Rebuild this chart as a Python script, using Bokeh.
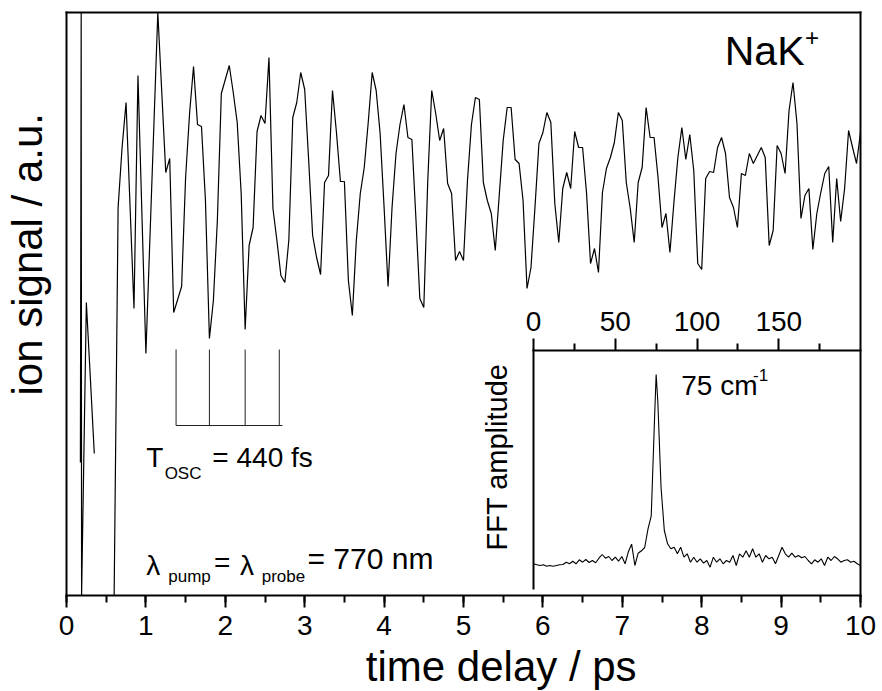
import numpy as np
from bokeh.plotting import figure
from bokeh.models import Range1d, LinearAxis, FixedTicker, Label
from bokeh.embed import file_html
from bokeh.resources import INLINE

# ---------------- data ----------------
# early (time-zero) part of the transient, ps / a.u. (off-scale points at the frame limits)
early_t = [0.175, 0.185, 0.19, 0.25, 0.30, 0.35]
early_signal = [133, 583, 0, 293, 218, 142]

# main transient, sampled every 0.05 ps starting at 0.60 ps
main_t0 = 0.60
main_dt = 0.05
main_signal = [
    0, 388, 448, 493, 390, 287, 520, 381,
    242, 356, 469, 583, 503, 423, 437, 283, 296, 309,
    418, 482, 529, 471, 469, 395, 257, 295, 375, 502,
    516, 530, 503, 473, 402, 266, 350, 368, 464, 480,
    472, 538, 387, 355, 320, 313, 355, 478, 493, 523,
    506, 435, 360, 338, 321, 413, 420, 505, 463, 414,
    414, 315, 280, 355, 402, 428, 473, 523, 505, 462,
    388, 309, 388, 442, 471, 491, 458, 456, 378, 297,
    288, 415, 505, 482, 455, 467, 412, 402, 335, 344,
    335, 415, 471, 498, 496, 413, 395, 382, 345, 400,
    455, 488, 488, 436, 432, 395, 307, 328, 388, 452,
    463, 483, 473, 392, 353, 407, 423, 407, 464, 448,
    448, 402, 332, 347, 323, 403, 427, 438, 453, 483,
    475, 413, 387, 353, 413, 428, 488, 458, 458, 418,
    368, 382, 343, 393, 438, 468, 436, 461, 425, 332,
    326, 417, 424, 423, 448, 458, 442, 398, 388, 368,
    422, 420, 442, 432, 440, 448, 438, 350, 365, 450,
    442, 422, 485, 513, 472, 377, 400, 407, 346, 382,
    403, 422, 429, 353, 417, 374, 407, 465, 448, 432,
    463,
]

# oscillation-period marks (ps)
osc_marks_t = [1.38, 1.80, 2.25, 2.68]
osc_mark_top = 246
osc_mark_bottom = 170
osc_bar_end = 2.72

# FFT of the transient (wavenumber cm^-1, amplitude a.u.)
fft_x = [0, 2, 4, 6, 8, 10, 12, 14, 16, 18, 20, 22, 24, 26, 28, 30, 32, 34, 36, 38,
         40, 42, 44, 46, 48, 50, 52, 54, 56, 58, 60, 62, 64, 66, 68, 70, 72, 74, 75, 76,
         78, 80, 82, 84, 86, 88, 90, 92, 94, 96, 98, 100, 102, 104, 106, 108, 110, 112,
         114, 116, 118, 120, 122, 124, 126, 128, 130, 132, 134, 136, 138, 140, 142, 144,
         146, 148, 150, 152, 154, 156, 158, 160, 162, 164, 166, 168, 170, 172, 174, 176,
         178, 180, 182, 184, 186, 188, 190, 192, 194, 196, 198, 200]
fft_amp = [24.7, 23.7, 23, 23.7, 22.3, 23, 22.3, 23, 23.7, 24, 26.3, 24.7, 27.3, 24.7,
           28.7, 26.3, 29, 26, 28, 25.7, 30.3, 34, 30.3, 32, 28, 31.3, 27.3, 32, 24.7,
           36.7, 44.3, 23, 35.3, 37.7, 41, 59.3, 72.7, 169, 214, 188, 101, 58, 44.7, 39.7,
           41.3, 34.7, 41.3, 31.3, 34.7, 26.3, 31.3, 26.3, 29.7, 25.3, 28, 21.3, 31.3,
           26.3, 29.7, 24.7, 28, 26.3, 33, 23, 34.7, 31.3, 37.7, 31.3, 39.7, 31.3, 34.7,
           26.3, 33, 29.7, 31.3, 24.7, 33, 41.3, 34.7, 31.3, 35.3, 31.3, 33, 30.7, 32,
           28, 24.7, 28.7, 26.3, 29.7, 23, 31.3, 28, 32, 29.7, 26.3, 28, 28.7, 26.3, 27.3,
           24.7, 23]

x_ticks = list(range(0, 11))
x_minor = [0.5 * i for i in range(21)]
fft_ticks = [0, 50, 100, 150]
fft_minor = [25, 75, 125, 175]

# ---------------- layout constants ----------------
FONT = "Liberation Sans"
W, H = 882, 691
BL, BR, BT, BB = 66, 22, 12, 96      # margins around the drawn box (px)
T_MAX = 10.0
Y_MAX = 583
PX_PER_PS = (W - BL - BR) / T_MAX
INSET_T0 = 5.882                     # main-time position of inset left edge
FFT_MAX = 200
FFT_OFFSET = 7                       # fft zero relative to main zero
INSET_TOP = 238                      # inset top axis (fft units)
BASE_SHIFT = 0.35                    # label anchor-to-baseline correction (em)

xr = Range1d(-BL / PX_PER_PS, T_MAX + BR / PX_PER_PS)
yr = Range1d(-BB, Y_MAX + BT)

main_t = [main_t0 + main_dt * i for i in range(len(main_signal))]
t_all = np.array(early_t + [np.nan] + main_t)
s_all = np.array(early_signal + [np.nan] + main_signal, dtype=float)

p = figure(width=W, height=H, x_range=xr, y_range=yr,
           output_backend="svg", toolbar_location=None, min_border=0)
p.grid.visible = False
p.outline_line_color = None
p.background_fill_color = "white"
p.border_fill_color = "white"


def style_axis(ax, ticks=None, minor=None, label_size="28px", standoff=8):
    ax.axis_line_width = 2
    ax.axis_line_cap = "square"
    ax.major_label_text_font = FONT
    ax.major_label_text_color = "black"
    if ticks is None:
        ax.ticker = FixedTicker(ticks=[])
        ax.major_tick_line_color = None
        ax.minor_tick_line_color = None
        ax.major_label_text_font_size = "0px"
    else:
        ax.ticker = FixedTicker(ticks=ticks, minor_ticks=minor)
        ax.major_tick_line_width = 2
        ax.minor_tick_line_width = 2
        ax.major_tick_out = 12
        ax.major_tick_in = 0
        ax.minor_tick_out = 7
        ax.minor_tick_in = 0
        ax.major_label_standoff = standoff
        ax.major_label_text_font_size = label_size


# bottom axis of the main box
xa = p.xaxis[0]
xa.fixed_location = 0
xa.bounds = (0, T_MAX)
style_axis(xa, x_ticks, x_minor, standoff=8)

# left, right and top edges of the main box
ya = p.yaxis[0]
ya.fixed_location = 0
ya.bounds = (0, Y_MAX)
style_axis(ya)

right_edge = LinearAxis(fixed_location=T_MAX, bounds=(0, Y_MAX))
style_axis(right_edge)
p.add_layout(right_edge, "right")

top_edge = LinearAxis(fixed_location=Y_MAX, bounds=(0, T_MAX))
style_axis(top_edge)
p.add_layout(top_edge, "above")

# inset ranges
k_fft = FFT_MAX / (T_MAX - INSET_T0)
p.extra_x_ranges = {"fx": Range1d((xr.start - INSET_T0) * k_fft, (xr.end - INSET_T0) * k_fft)}
p.extra_y_ranges = {"fy": Range1d(yr.start - FFT_OFFSET, yr.end - FFT_OFFSET)}

# main transient
p.line(t_all, s_all, line_color="black", line_width=1.2)

# oscillation period bracket
p.segment(x0=osc_marks_t, y0=[osc_mark_bottom] * len(osc_marks_t),
          x1=osc_marks_t, y1=[osc_mark_top] * len(osc_marks_t),
          line_color="#222222", line_width=1)
p.segment(x0=[osc_marks_t[0]], y0=[osc_mark_bottom], x1=[osc_bar_end], y1=[osc_mark_bottom],
          line_color="#222222", line_width=1)

# inset FFT
p.line(fft_x, fft_amp, x_range_name="fx", y_range_name="fy", line_color="black", line_width=1.1)

top_ax = LinearAxis(x_range_name="fx", y_range_name="fy", fixed_location=INSET_TOP,
                    bounds=(0, FFT_MAX))
style_axis(top_ax, fft_ticks, fft_minor, standoff=8)
p.add_layout(top_ax, "above")

left_ax = LinearAxis(x_range_name="fx", y_range_name="fy", fixed_location=0,
                     bounds=(0, INSET_TOP))
style_axis(left_ax)
p.add_layout(left_ax, "left")


# texts (x, y give the text baseline start, in main data units)
def lab(text, x, y, size, angle=0.0):
    if angle == 0.0:
        y = y + BASE_SHIFT * size
    else:
        x = x - BASE_SHIFT * size / PX_PER_PS
    p.add_layout(Label(x=x, y=y, text=text, text_font=FONT, text_font_size=f"{size}px",
                       text_color="black", text_align="left", text_baseline="alphabetic",
                       angle=angle))


lab("NaK", 8.29, 530, 41)
lab("+", 9.30, 550, 24)
lab("T", 1.005, 128, 28)
lab("OSC", 1.236, 116, 17)
lab("= 440 fs", 1.837, 128, 28)
lab("λ", 1.005, 20, 28)
lab("pump", 1.282, 13, 17)
lab("=", 1.857, 23, 28)
lab("λ", 2.186, 20, 28)
lab("probe", 2.459, 13, 17)
lab("= 770 nm", 3.035, 27, 30)
lab("75 cm", 7.743, 200, 28)
lab("-1", 8.647, 215, 17)
lab("FFT amplitude", 5.554, 45, 29, angle=np.pi / 2)
lab("time delay / ps", 3.77, -86, 42)
lab("ion signal / a.u.", -0.302, 200, 42, angle=np.pi / 2)

open("out.html", "w").write(file_html(p, INLINE))
